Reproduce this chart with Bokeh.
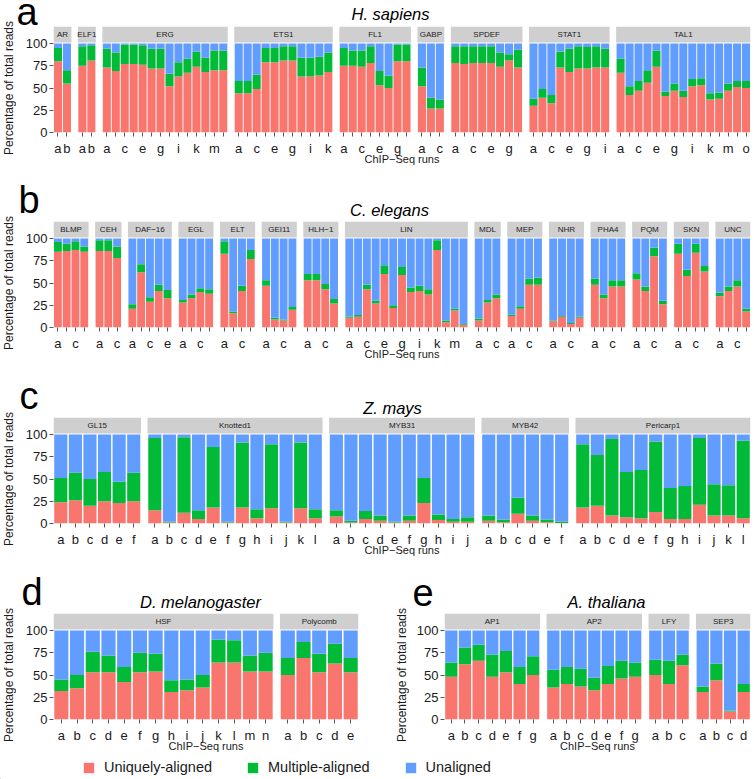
import math
from bokeh.plotting import figure
from bokeh.models import ColumnDataSource, Range1d, FixedTicker, Legend, LegendItem
from bokeh.layouts import column, row
from bokeh.core.properties import value
from bokeh.embed import file_html
from bokeh.resources import INLINE

# ---------------- data (percent of total reads) ----------------
RUN_LETTERS = list("abcdefghijklmno")
SERIES = ["Uniquely-aligned", "Multiple-aligned", "Unaligned"]
AXIS_X_TITLE = "ChIP\u2212Seq runs"
AXIS_Y_TITLE = "Percentage of total reads"
Y_TICKS = [0, 25, 50, 75, 100]

# a: H. sapiens
HS_GROUPS = ["AR", "ELF1", "ERG", "ETS1", "FL1", "GABP", "SPDEF", "STAT1", "TAL1"]
HS_UNIQ = [
    [80, 55],
    [75, 81],
    [73, 69, 77, 77, 76, 72, 72, 52, 63, 67, 74, 68, 70, 70],
    [44, 44, 49, 79, 79, 81, 81, 63, 63, 64, 68],
    [75, 75, 74, 78, 53, 50, 80, 80],
    [52, 27, 27],
    [78, 77, 78, 78, 78, 74, 81, 73],
    [30, 39, 33, 73, 68, 72, 72, 73, 73],
    [67, 42, 47, 56, 74, 41, 47, 40, 52, 53, 37, 38, 47, 51, 50],
]
HS_MULTI = [
    [15, 15],
    [22, 17],
    [21, 21, 22, 22, 22, 22, 22, 14, 16, 16, 17, 16, 22, 22],
    [14, 14, 16, 16, 16, 16, 16, 21, 21, 21, 22],
    [20, 17, 18, 19, 16, 14, 19, 19],
    [21, 12, 10],
    [19, 20, 19, 19, 19, 16, 7, 20],
    [8, 10, 9, 18, 26, 25, 24, 24, 21],
    [16, 10, 11, 14, 18, 5, 8, 7, 8, 8, 7, 7, 8, 7, 8],
]

# b: C. elegans
CE_GROUPS = ["BLMP", "CEH", "DAF\u221216", "EGL", "ELT", "GEI11", "HLH\u22121", "LIN",
             "MDL", "MEP", "NHR", "PHA4", "PQM", "SKN", "UNC"]
CE_UNIQ = [
    [85, 86, 87, 85],
    [86, 86, 78],
    [21, 62, 29, 41, 33],
    [28, 33, 40, 38],
    [83, 16, 41, 77],
    [47, 9, 8, 20],
    [53, 53, 43, 27],
    [11, 12, 43, 27, 60, 22, 59, 40, 41, 37, 87, 6, 19, 3],
    [8, 28, 33],
    [13, 21, 48, 48],
    [7, 12, 4, 11],
    [48, 33, 46, 46],
    [54, 41, 80, 26],
    [83, 58, 84, 63],
    [35, 41, 46, 18],
]
CE_MULTI = [
    [11, 8, 10, 6],
    [12, 12, 13],
    [5, 9, 5, 7, 9],
    [3, 4, 4, 5],
    [14, 2, 6, 10],
    [6, 2, 1, 3],
    [7, 7, 6, 5],
    [1.5, 2, 5, 3, 10, 3, 9, 5, 6, 6, 11, 2, 2, 1],
    [2, 3, 4],
    [1.5, 3, 7, 8],
    [1, 1, 1, 1],
    [7, 4, 7, 7],
    [7, 5, 10, 4],
    [11, 7, 10, 6],
    [4, 5, 7, 3],
]

# c: Z. mays
ZM_GROUPS = ["GL15", "Knotted1", "MYB31", "MYB42", "Pericarp1"]
ZM_UNIQ = [
    [24, 26, 20, 25, 23, 25],
    [15, 1, 12, 5, 18, 1, 18, 6, 17, 1, 17, 6],
    [8, 1, 5, 3, 1, 3, 23, 4, 2, 2],
    [3, 1.5, 11, 3, 1.5, 0.7],
    [18, 20, 9, 7, 6, 13, 5, 5, 21, 9, 9, 6],
]
ZM_MULTI = [
    [27, 31, 30, 33, 24, 32],
    [81, 1, 85, 10, 68, 1, 73, 10, 72, 1, 74, 10],
    [7, 2, 9, 6, 1, 6, 28, 6, 3, 5],
    [6, 3, 18, 6, 3, 1.5],
    [71, 57, 86, 51, 54, 79, 35, 37, 75, 35, 34, 87],
]

# d: D. melanogaster
DM_GROUPS = ["HSF", "Polycomb"]
DM_UNIQ = [
    [32, 35, 53, 53, 42, 53, 54, 31, 33, 36, 64, 64, 54, 54],
    [50, 69, 53, 63, 53],
]
DM_MULTI = [
    [13, 15, 23, 19, 17, 22, 20, 13, 12, 14, 26, 25, 18, 21],
    [19, 18, 21, 22, 16],
]

# e: A. thaliana
AT_GROUPS = ["AP1", "AP2", "LFY", "SEP3"]
AT_UNIQ = [
    [48, 62, 66, 48, 53, 40, 50],
    [36, 40, 37, 33, 40, 46, 48],
    [50, 40, 61],
    [31, 44, 9, 31],
]
AT_MULTI = [
    [16, 19, 18, 25, 24, 19, 21],
    [20, 19, 20, 14, 20, 20, 16],
    [17, 26, 12],
    [6, 19, 1, 9],
]

# ---------------- styles ----------------
COLORS = ["#F8766D", "#00BA38", "#619CFF"]
FONT = "Liberation Sans"
STRIP_FILL = "#CFCFCF"
TEXT_COL = "#1a1a1a"
TICK_COL = "#555555"
STRIP_PX = 17.0
MID_SHIFT = 0.3465      # baseline lies this many font-sizes below a "middle" anchor
LETTER_SIZE = 38
TITLE_SIZE = 16.5


def blank(width, height):
    p = figure(width=width, height=height, x_range=Range1d(0, width), y_range=Range1d(0, height),
               output_backend="svg", toolbar_location=None, title=None,
               x_axis_type=None, y_axis_type=None, frame_align=False,
               min_border_left=0, min_border_right=0, min_border_top=0, min_border_bottom=0)
    p.outline_line_color = None
    p.xgrid.visible = False
    p.ygrid.visible = False
    return p


def header(width, height, letter, letter_x, letter_base, title, title_cx, title_base):
    # positions: pixels from this header's top-left corner (baselines)
    p = blank(width, height)
    p.text(x=[letter_x], y=[height - (letter_base - MID_SHIFT * LETTER_SIZE)], text=[letter],
           text_font=value(FONT), text_font_size=value(f"{LETTER_SIZE}px"), text_align="left",
           text_baseline="middle", text_color="black")
    p.text(x=[title_cx], y=[height - (title_base - MID_SHIFT * TITLE_SIZE)], text=[title],
           text_font=value(FONT), text_font_size=value(f"{TITLE_SIZE}px"), text_font_style="italic",
           text_align="center", text_baseline="middle", text_color="black")
    return p


def ylabel_fig(width, height, cx, cy_from_top):
    p = blank(width, height)
    p.text(x=[cx], y=[height - cy_from_top], text=[AXIS_Y_TITLE], angle=math.pi / 2,
           text_font=value(FONT), text_font_size=value("12px"), text_align="center",
           text_baseline="middle", text_color=TEXT_COL)
    return p


def panel(groups, uniq, multi, *, width, height, bl, br, bb, alternate):
    W = width - bl - br
    H = height - bb
    pyu = (H - STRIP_PX) / 100.0
    ymax = H / pyu
    N = sum(len(u) for u in uniq)
    G = len(groups)
    GAP = 6.5
    upx = (W - (G - 1) * GAP) / N
    gapu = GAP / upx
    xmax = N + (G - 1) * gapu

    xs, us, ums, labels = [], [], [], []
    s_left, s_right, s_mid, s_name = [], [], [], []
    start = 0.0
    for name, u, m in zip(groups, uniq, multi):
        n = len(u)
        for i in range(n):
            xs.append(round(start + i + 0.5, 6))
            us.append(u[i])
            ums.append(u[i] + m[i])
            show = (not alternate) or n <= 2 or i % 2 == 0
            labels.append(RUN_LETTERS[i] if show else "")
        s_left.append(start)
        s_right.append(start + n)
        s_mid.append(start + n / 2.0)
        s_name.append(name)
        start += n + gapu

    p = figure(width=width, height=height, x_range=Range1d(0, xmax), y_range=Range1d(0, ymax),
               output_backend="svg", toolbar_location=None, title=None, frame_align=False,
               min_border_left=bl, min_border_right=br, min_border_top=0, min_border_bottom=bb)
    p.outline_line_color = None
    p.xgrid.visible = False
    p.ygrid.visible = False
    p.background_fill_color = "white"
    p.border_fill_color = "white"

    src = ColumnDataSource(dict(x=xs, u=us, um=ums, full=[100] * len(xs)))
    p.vbar(x="x", width=0.9, bottom=0, top="u", source=src, fill_color=COLORS[0], line_color=None)
    p.vbar(x="x", width=0.9, bottom="u", top="um", source=src, fill_color=COLORS[1], line_color=None)
    p.vbar(x="x", width=0.9, bottom="um", top="full", source=src, fill_color=COLORS[2], line_color=None)

    ssrc = ColumnDataSource(dict(l=s_left, r=s_right, m=s_mid, name=s_name))
    sb = 100 + 1.0 / pyu
    p.quad(left="l", right="r", bottom=sb, top=ymax, source=ssrc, fill_color=STRIP_FILL, line_color=None)
    p.text(x="m", y=(sb + ymax) / 2.0, text="name", source=ssrc, text_font=value(FONT),
           text_font_size=value("8px"), text_align="center", text_baseline="middle",
           text_color="#222222")

    xa = p.xaxis[0]
    xa.ticker = FixedTicker(ticks=xs)
    xa.major_label_overrides = {x: l for x, l in zip(xs, labels)}
    xa.axis_line_color = None
    xa.major_tick_line_color = TICK_COL
    xa.major_tick_in = 0
    xa.major_tick_out = 4
    xa.minor_tick_line_color = None
    xa.major_label_standoff = 4
    xa.major_label_text_font = FONT
    xa.major_label_text_font_size = "13px"
    xa.major_label_text_color = TEXT_COL
    xa.axis_label = AXIS_X_TITLE
    xa.axis_label_text_font = FONT
    xa.axis_label_text_font_size = "11px"
    xa.axis_label_text_font_style = "normal"
    xa.axis_label_text_color = TEXT_COL
    xa.axis_label_standoff = -6

    ya = p.yaxis[0]
    ya.ticker = FixedTicker(ticks=Y_TICKS)
    ya.axis_line_color = None
    ya.major_tick_line_color = TICK_COL
    ya.major_tick_in = 0
    ya.major_tick_out = 4
    ya.minor_tick_line_color = None
    ya.major_label_standoff = 2
    ya.major_label_text_font = FONT
    ya.major_label_text_font_size = "13px"
    ya.major_label_text_color = TEXT_COL
    return p


def block(groups, uniq, multi, *, total_w, lab_w, lab_cx, hh, ph, bl, br, bb, alternate,
          letter, letter_x, letter_base, title, title_cx, title_base):
    inner_w = total_w - lab_w
    cy = hh + STRIP_PX + (ph - bb - STRIP_PX) / 2.0
    ylab = ylabel_fig(lab_w, hh + ph, lab_cx, cy)
    hd = header(inner_w, hh, letter, letter_x, letter_base, title, title_cx, title_base)
    pn = panel(groups, uniq, multi, width=inner_w, height=ph, bl=bl, br=br, bb=bb, alternate=alternate)
    return row(ylab, column(hd, pn))


blk_a = block(HS_GROUPS, HS_UNIQ, HS_MULTI, total_w=754, lab_w=16, lab_cx=8, hh=26, ph=145,
              bl=37, br=4, bb=39, alternate=True,
              letter="a", letter_x=0, letter_base=25, title="H. sapiens", title_cx=374, title_base=19)
blk_b = block(CE_GROUPS, CE_UNIQ, CE_MULTI, total_w=754, lab_w=16, lab_cx=8, hh=50, ph=146,
              bl=37, br=4, bb=40, alternate=True,
              letter="b", letter_x=2, letter_base=42, title="C. elegans", title_cx=373, title_base=44)
blk_c = block(ZM_GROUPS, ZM_UNIQ, ZM_MULTI, total_w=754, lab_w=16, lab_cx=8, hh=50, ph=146,
              bl=37, br=4, bb=40, alternate=False,
              letter="c", letter_x=3, letter_base=42, title="Z. mays", title_cx=376, title_base=46)
blk_d = block(DM_GROUPS, DM_UNIQ, DM_MULTI, total_w=385, lab_w=16, lab_cx=8, hh=50, ph=142,
              bl=37, br=27, bb=36, alternate=False,
              letter="d", letter_x=5, letter_base=42, title="D. melanogaster", title_cx=184, title_base=44)
blk_e = block(AT_GROUPS, AT_UNIQ, AT_MULTI, total_w=369, lab_w=24, lab_cx=16, hh=50, ph=142,
              bl=35, br=4, bb=36, alternate=False,
              letter="e", letter_x=3, letter_base=42, title="A. thaliana", title_cx=197, title_base=44)

# legend strip
pl = blank(754, 24)
hidden = ColumnDataSource(dict(x=[-50.0], top=[1.0]))
items = []
for name, col in zip(SERIES, COLORS):
    r = pl.vbar(x="x", top="top", width=0.5, source=hidden, fill_color=col, line_color=None)
    items.append(LegendItem(label=name, renderers=[r]))
leg = Legend(items=items, orientation="horizontal", location=(82, 4),
             glyph_width=13, glyph_height=13, label_standoff=9, spacing=34,
             padding=0, margin=0, border_line_color=None, background_fill_alpha=0,
             label_text_font=FONT, label_text_font_size="14.5px", label_height=13,
             label_text_color=TEXT_COL)
pl.add_layout(leg, "center")

layout = column(blk_a, blk_b, blk_c, row(blk_d, blk_e), pl)
open("out.html", "w").write(file_html(layout, INLINE))
